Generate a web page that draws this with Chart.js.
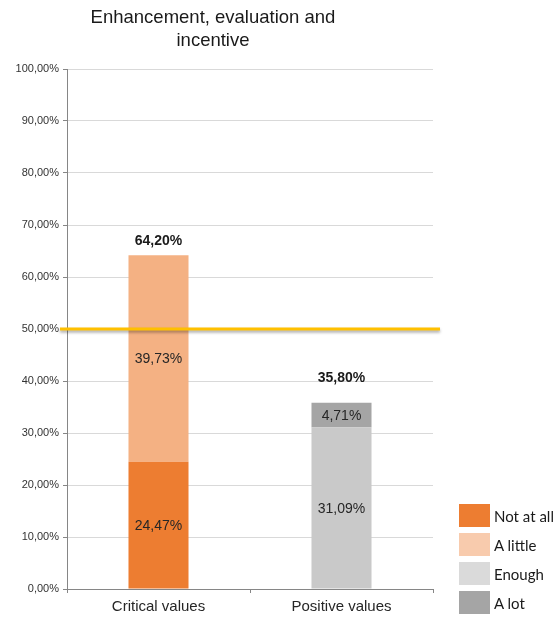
<!DOCTYPE html>
<html>
<head>
<meta charset="utf-8">
<script src="https://cdn.jsdelivr.net/npm/chart.js@4/dist/chart.umd.min.js"></script>
<style>
  body { margin: 0; background: #fff; }
  #wrap { position: relative; width: 556px; height: 618px; }
  #legend { position: absolute; left: 459px; top: 504px; font-family: Lato, "Open Sans", sans-serif; font-size: 15px; color: #1a1a1a; }
  .item { display: flex; align-items: center; height: 23px; margin-bottom: 6px; }
  .box { width: 31px; height: 23px; margin-right: 4px; }
</style>
</head>
<body>
<div id="wrap">
  <canvas id="chart" width="556" height="618"></canvas>
  <div id="legend"></div>
</div>
<script>
// ======== Dados ========
const categories = ['Critical values', 'Positive values'];
const seriesNames = ['Not at all', 'A little', 'Enough', 'A lot'];
const notAtAll = [24.47, null];
const aLittle = [39.73, null];
const enough = [null, 31.09];
const aLot = [null, 4.71];
const threshold = 50;
const titleLines = ['Enhancement, evaluation and', 'incentive'];

const barColors = ['#ED7D31', '#F4B183', '#C9C9C9', '#A5A5A5'];
const legendColors = ['#ED7D31', '#F8CBAD', '#DADADA', '#A5A5A5'];

const fmt = v => v.toFixed(2).replace('.', ',') + '%';

// ======== Plugins ========
const titlePlugin = {
  id: 'titleText',
  afterDraw(chart) {
    const ctx = chart.ctx;
    ctx.save();
    ctx.font = '18.5px "Liberation Sans", Arial, sans-serif';
    ctx.fillStyle = '#1a1a1a';
    ctx.textAlign = 'center';
    ctx.textBaseline = 'middle';
    titleLines.forEach((t, i) => ctx.fillText(t, 213, 18 + i * 23));
    ctx.restore();
  }
};

const labelPlugin = {
  id: 'barLabels',
  afterDatasetsDraw(chart) {
    const ctx = chart.ctx;
    ctx.save();
    ctx.textAlign = 'center';
    ctx.textBaseline = 'middle';
    ctx.font = '14px "Liberation Sans", Arial, sans-serif';
    ctx.fillStyle = '#262626';
    const tops = [];
    const totals = [];
    chart.data.datasets.forEach((ds, di) => {
      chart.getDatasetMeta(di).data.forEach((el, i) => {
        const v = ds.data[i];
        if (v == null) return;
        ctx.fillText(fmt(v), el.x, (el.y + el.base) / 2 + 1);
        totals[i] = (totals[i] || 0) + v;
        tops[i] = tops[i] == null ? el.y : Math.min(tops[i], el.y);
      });
    });
    ctx.font = 'bold 14px "Liberation Sans", Arial, sans-serif';
    ctx.fillStyle = '#1a1a1a';
    const offs = [14, 25];
    totals.forEach((t, i) => {
      const x = chart.getDatasetMeta(0).data[i].x;
      ctx.fillText(fmt(t), x, tops[i] - offs[i]);
    });
    ctx.restore();
  }
};

const thresholdPlugin = {
  id: 'threshold',
  afterDatasetsDraw(chart) {
    const ctx = chart.ctx;
    const y = chart.scales.y.getPixelForValue(threshold);
    const a = chart.chartArea;
    ctx.save();
    ctx.shadowColor = 'rgba(0,0,0,0.35)';
    ctx.shadowOffsetY = 2;
    ctx.shadowBlur = 3;
    ctx.strokeStyle = '#FFC000';
    ctx.lineWidth = 3;
    ctx.beginPath();
    ctx.moveTo(a.left - 7, y);
    ctx.lineTo(a.right + 7, y);
    ctx.stroke();
    ctx.restore();
  }
};

// ======== Gráfico ========
const seriesData = [notAtAll, aLittle, enough, aLot];
let chart = new Chart(document.getElementById('chart').getContext('2d'), {
  type: 'bar',
  data: {
    labels: categories,
    datasets: seriesNames.map((name, i) => ({
      label: name,
      data: seriesData[i],
      backgroundColor: barColors[i],
      categoryPercentage: 1,
      barPercentage: 0.328,
    })),
  },
  options: {
    responsive: false,
    animation: false,
    layout: { padding: { left: 0, right: 123, top: 69, bottom: 0 } },
    plugins: { legend: { display: false }, title: { display: false }, tooltip: { enabled: false } },
    scales: {
      x: {
        stacked: true,
        afterFit: s => { s.height = 29; },
        border: { color: '#868686' },
        grid: { drawOnChartArea: false, drawTicks: true, tickLength: 4, tickColor: '#868686' },
        ticks: { color: '#262626', padding: 5, font: { family: '"Liberation Sans", Arial, sans-serif', size: 15 } },
      },
      y: {
        stacked: true,
        min: 0,
        max: 100,
        afterFit: s => { s.width = 67; },
        border: { color: '#868686' },
        grid: { color: '#D9D9D9', tickLength: 4, tickColor: '#868686' },
        ticks: {
          stepSize: 10,
          padding: 4,
          color: '#333333',
          font: { family: '"Liberation Sans", Arial, sans-serif', size: 11 },
          callback: v => fmt(v),
        },
      },
    },
  },
  plugins: [titlePlugin, labelPlugin, thresholdPlugin],
});

// ======== Legenda ========
const legend = document.getElementById('legend');
seriesNames.forEach((name, i) => {
  const div = document.createElement('div');
  div.className = 'item';
  div.innerHTML = `<span class="box" style="background:${legendColors[i]}"></span><span>${name}</span>`;
  legend.appendChild(div);
});
</script>
</body>
</html>
